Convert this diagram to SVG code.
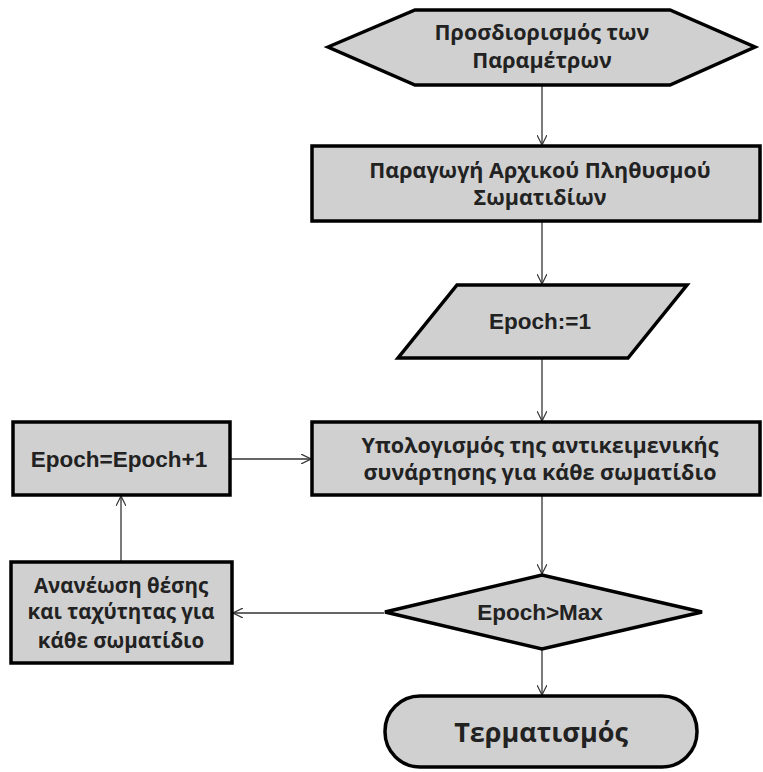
<svg xmlns="http://www.w3.org/2000/svg" width="763" height="772" viewBox="0 0 763 772">
<style>
.shape{fill:#d0d0d0;stroke:#000;stroke-width:3.5;stroke-linejoin:miter}
.conn{fill:none;stroke:#333;stroke-width:1.3;marker-end:url(#arr)}
.gr{font-family:"Open Sans","Noto Sans",sans-serif;font-weight:bold;fill:#222;text-anchor:middle;font-size:21.5px}
.ar{font-family:"Liberation Sans",Arial,sans-serif;font-weight:bold;fill:#222;text-anchor:middle;font-size:22.5px}
</style>
<defs>
<marker id="arr" viewBox="0 0 10 10" refX="10" refY="5" markerWidth="10" markerHeight="10" markerUnits="userSpaceOnUse" orient="auto">
<path d="M0,0 L10,5 L0,10" fill="none" stroke="#333" stroke-width="1.2"/>
</marker>
</defs>
<rect width="763" height="772" fill="#fff"/>
<g id="connectors">
<line class="conn" x1="542" y1="86" x2="542" y2="145"/>
<line class="conn" x1="542" y1="222" x2="542" y2="284"/>
<line class="conn" x1="542" y1="359" x2="542" y2="421"/>
<line class="conn" x1="231" y1="459" x2="311" y2="459"/>
<line class="conn" x1="542" y1="496" x2="542" y2="574"/>
<line class="conn" x1="384" y1="613" x2="233" y2="613"/>
<line class="conn" x1="121" y1="561" x2="121" y2="496"/>
<line class="conn" x1="542" y1="650" x2="542" y2="695"/>
</g>
<g id="n1">
<polygon class="shape" points="328,47 415,10 670,10 755,47 670,85 415,85"/>
<text class="gr" x="542" y="40">Προσδιορισμός των</text>
<text class="gr" x="542" y="68">Παραμέτρων</text>
</g>
<g id="n2">
<rect class="shape" x="312" y="146" width="448" height="75"/>
<text class="gr" x="540" y="178">Παραγωγή Αρχικού Πληθυσμού</text>
<text class="gr" x="540" y="205">Σωματιδίων</text>
</g>
<g id="n3">
<polygon class="shape" points="457,285 687,285 628,358 398,358"/>
<text class="ar" x="540" y="329">Epoch:=1</text>
</g>
<g id="n4">
<rect class="shape" x="312" y="422" width="448" height="73"/>
<text class="gr" x="540" y="453">Υπολογισμός της αντικειμενικής</text>
<text class="gr" x="540" y="480">συνάρτησης για κάθε σωματίδιο</text>
</g>
<g id="n5">
<rect class="shape" x="13" y="422" width="217" height="73"/>
<text class="ar" x="119" y="467">Epoch=Epoch+1</text>
</g>
<g id="n6">
<polygon class="shape" points="385,612 542,575 702,612 542,649"/>
<text class="ar" x="540" y="620">Epoch&gt;Max</text>
</g>
<g id="n7">
<rect class="shape" x="11" y="562" width="221" height="101"/>
<text class="gr" x="121" y="593" style="font-size:20.5px">Ανανέωση θέσης</text>
<text class="gr" x="121" y="619" style="font-size:20.5px">και ταχύτητας για</text>
<text class="gr" x="121" y="648" style="font-size:20.5px">κάθε σωματίδιο</text>
</g>
<g id="n8">
<rect class="shape" x="385" y="696" width="312" height="71" rx="35" ry="35"/>
<text class="gr" x="541" y="742" style="font-size:27px">Τερματισμός</text>
</g>
</svg>
